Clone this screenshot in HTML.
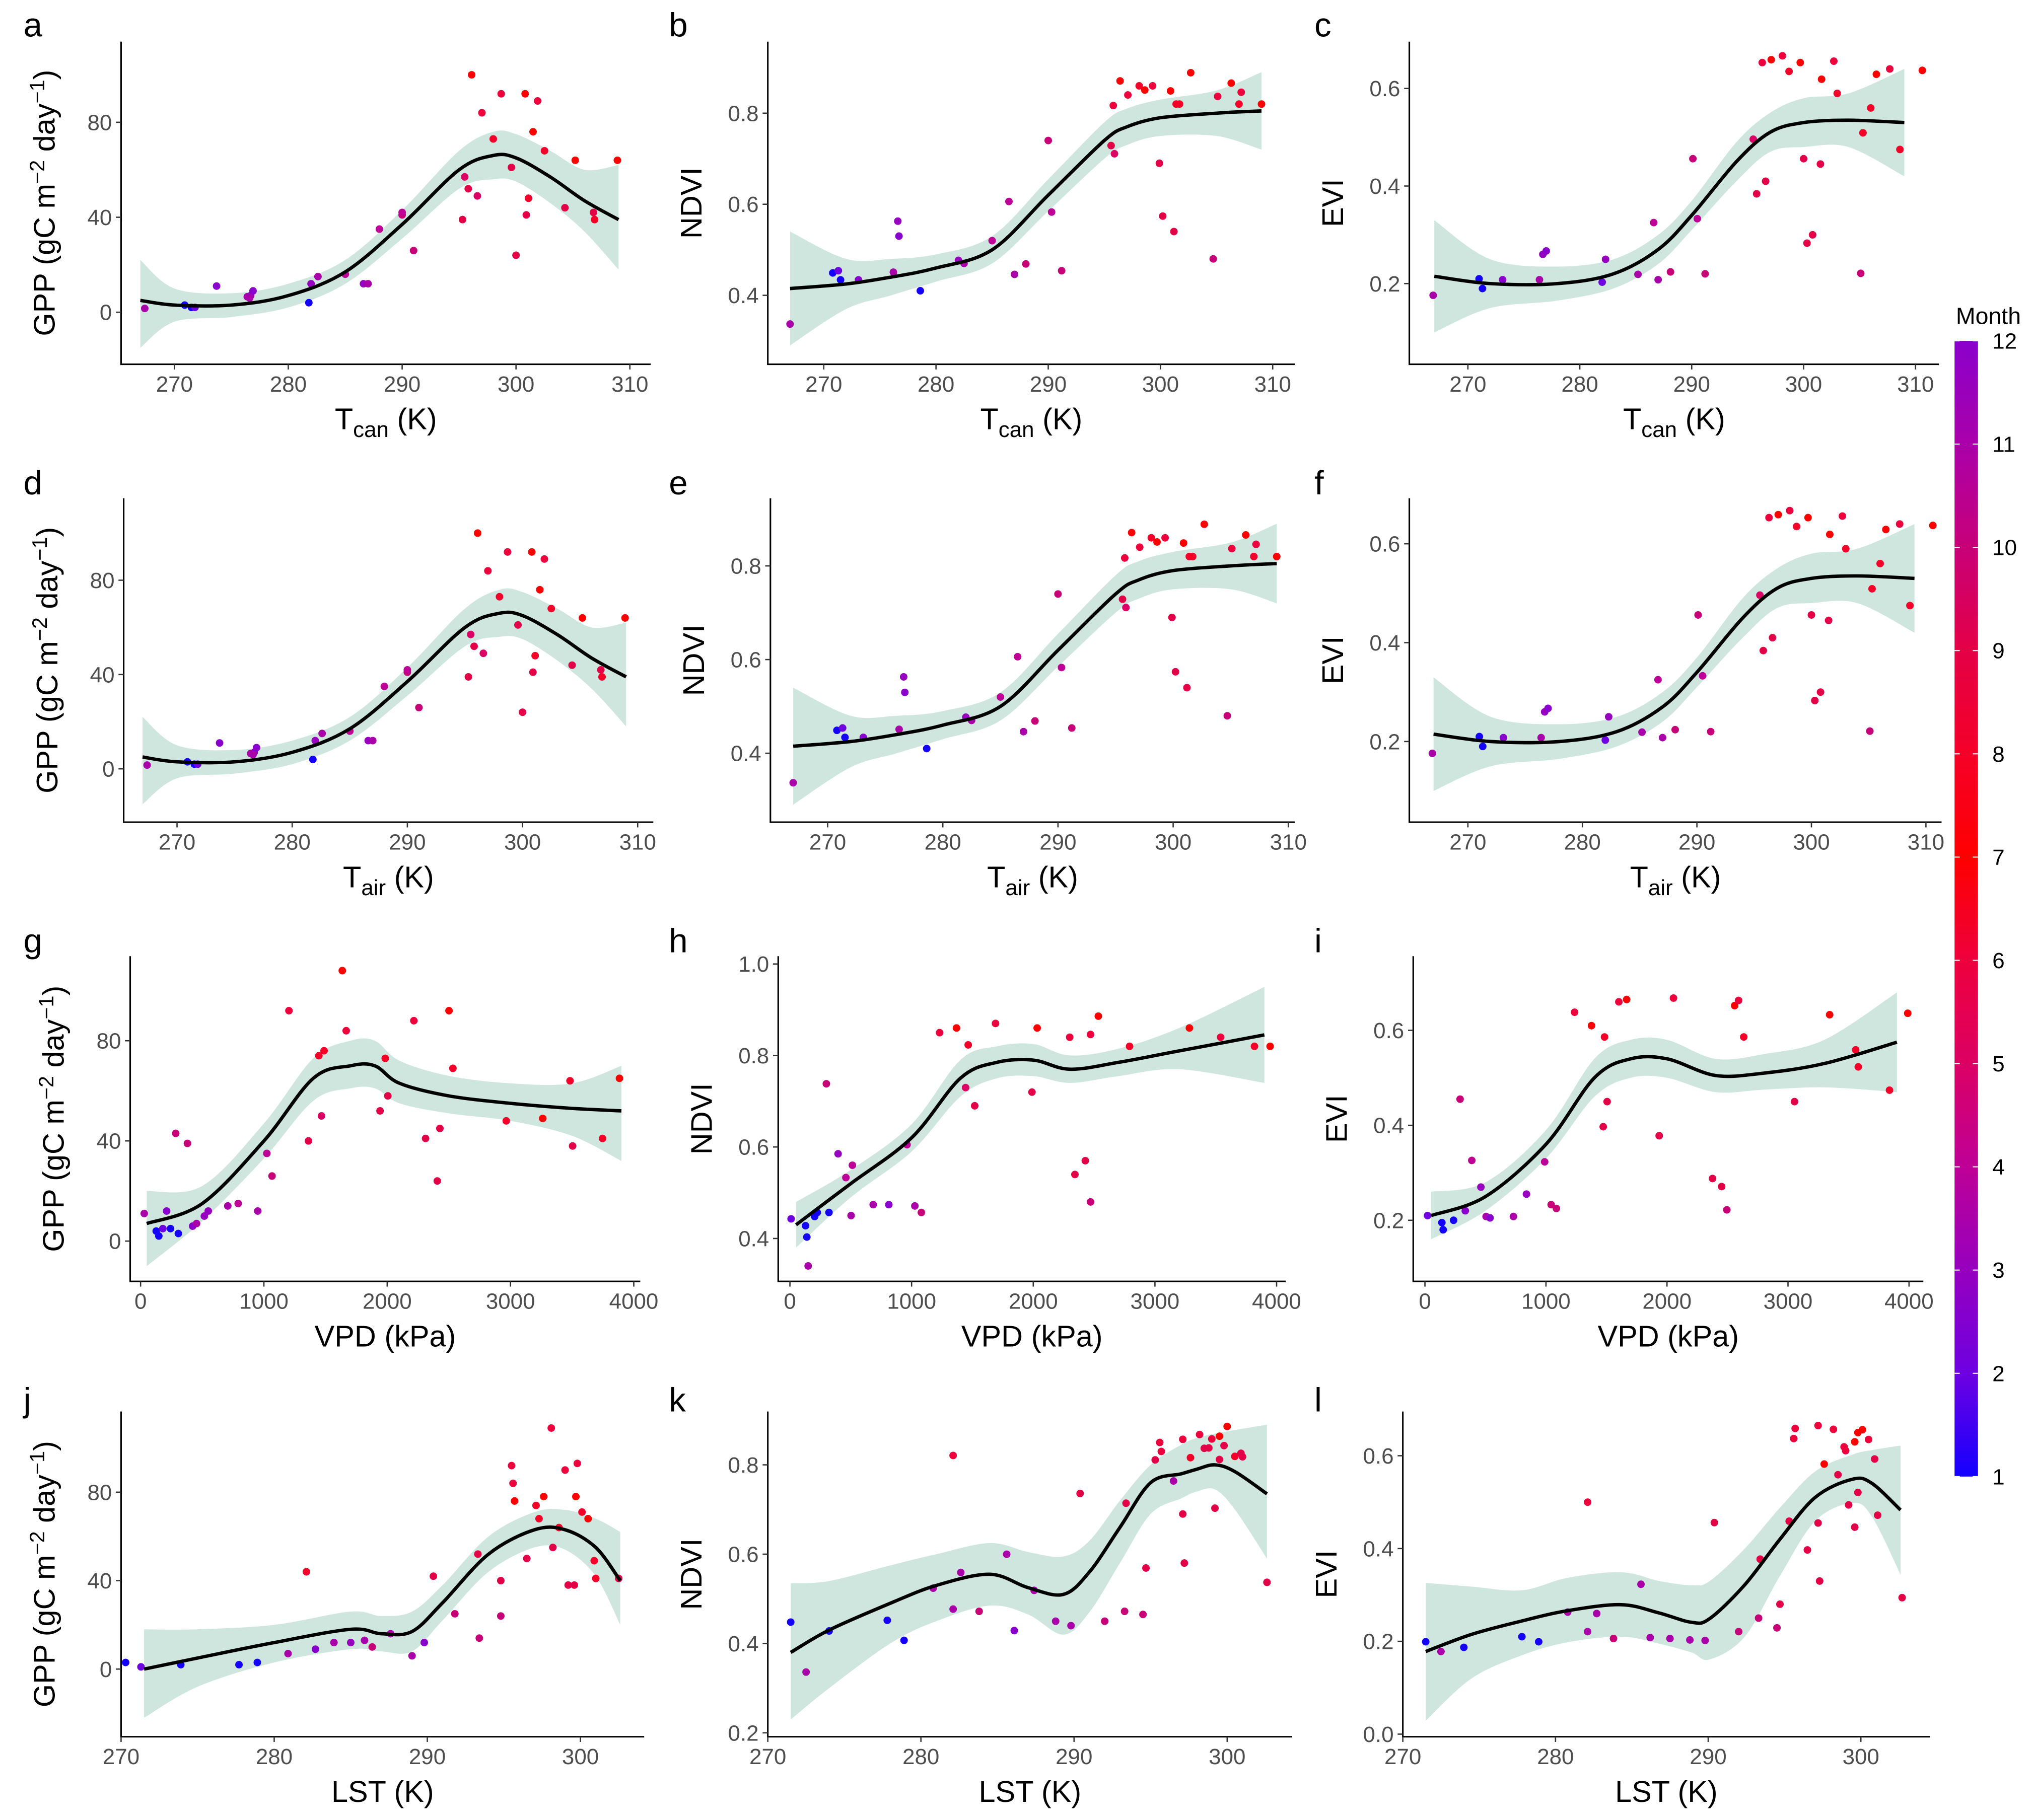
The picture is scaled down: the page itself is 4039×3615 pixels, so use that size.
<!DOCTYPE html>
<html><head><meta charset="utf-8"><title>GPP/NDVI/EVI vs drivers</title>
<style>html,body{margin:0;padding:0;background:#fff}svg{display:block}</style></head>
<body>
<svg id="chart" xmlns="http://www.w3.org/2000/svg" width="4039" height="3615" viewBox="0 0 1563 1399" font-family="Liberation Sans, sans-serif"></svg>
<script>
// ---------- data ----------
const aPts=[[267.4,1.6,11],[270.9,3,1],[271.5,2,1],[271.8,2,2],[273.7,11,12],[276.4,6.5,11],[276.7,7,3],[276.9,9,12],[276.6,6,11],[281.8,4,1],[282,12,3],[282.6,15,11],[285,16,4],[286.6,12,3],[287,12,11],[288,35,4],[290,41,10],[290,42,4],[291,26,10],[295.3,39,9],[295.5,57,5],[295.8,52,9],[296.1,100,7],[296.6,49,5],[297,84,6],[298,73,8],[298.7,92,6],[299.6,61,9],[300,24,9],[300.8,92,7],[300.9,41,9],[301.1,48,8],[301.5,76,7],[301.9,89,6],[302.5,68,8],[304.3,44,9],[305.2,64,7],[306.8,42,9],[306.9,39,8],[308.9,64,7]];
const aFitX=[267,270,275,280,285,290,295,298,300,303,306,309];
const aFitY=[5,3,3,7,17,37,60,66,65,57,47,39];
const aFitLo=[-15,-4,-2,2,12,31,52,56,55,46,34,18];
const aFitHi=[22,10,8,12,22,43,68,76,75,68,60,62];

const bPts=[[267,0.337,11],[270.8,0.449,1],[271.3,0.454,2],[271.5,0.434,1],[273.1,0.434,12],[276.2,0.451,11],[276.6,0.563,3],[276.7,0.53,12],[278.6,0.41,1],[282,0.477,3],[282.5,0.47,11],[285,0.52,4],[286.5,0.606,4],[287,0.446,11],[288,0.469,10],[290,0.74,10],[290.3,0.583,4],[291.2,0.454,10],[295.6,0.729,9],[295.9,0.711,5],[295.8,0.817,6],[296.4,0.871,7],[297.1,0.84,6],[298.1,0.86,8],[298.6,0.851,7],[299.3,0.86,6],[299.9,0.69,9],[300.2,0.574,9],[300.9,0.849,7],[301.2,0.54,9],[301.4,0.82,8],[301.7,0.82,8],[302.7,0.889,7],[304.7,0.48,10],[305.1,0.837,6],[306.3,0.866,7],[307,0.82,8],[307.2,0.846,6],[309,0.82,7]];
const bFitX=[267,272,276,280,285,290,295,297,300,305,309];
const bFitY=[0.415,0.425,0.44,0.46,0.5,0.62,0.74,0.77,0.79,0.8,0.805];
const bFitLo=[0.29,0.37,0.40,0.43,0.47,0.585,0.7,0.73,0.75,0.75,0.72];
const bFitHi=[0.54,0.48,0.48,0.49,0.53,0.655,0.78,0.81,0.83,0.85,0.89];

const cPts=[[266.9,0.176,11],[271,0.21,1],[271.3,0.19,1],[273.1,0.208,12],[276.4,0.208,11],[276.7,0.26,3],[277,0.267,12],[282,0.203,2],[282.3,0.25,3],[285.2,0.219,11],[286.6,0.325,4],[287,0.208,11],[288.1,0.224,10],[290.1,0.456,10],[290.5,0.333,4],[291.2,0.22,10],[295.5,0.496,5],[295.8,0.384,9],[296.3,0.653,6],[296.6,0.41,9],[297.1,0.659,7],[298.1,0.667,6],[298.7,0.635,8],[299.7,0.653,7],[300,0.456,9],[300.3,0.283,9],[300.8,0.30,9],[301.5,0.445,9],[301.6,0.619,7],[302.7,0.656,6],[303,0.59,8],[305.1,0.221,10],[305.3,0.509,8],[306,0.56,8],[306.5,0.629,7],[307.7,0.64,6],[308.6,0.475,8],[310.6,0.637,7]];
const cFitX=[267,272,278,283,287,290,294,297,300,304,309];
const cFitY=[0.215,0.2,0.2,0.22,0.27,0.34,0.45,0.51,0.53,0.535,0.53];
const cFitLo=[0.1,0.15,0.165,0.19,0.24,0.31,0.41,0.47,0.48,0.48,0.42];
const cFitHi=[0.33,0.25,0.235,0.25,0.3,0.37,0.49,0.55,0.58,0.59,0.64];

const gPts=[[30,11,11],[127,4,1],[148,2,1],[180,5,2],[211,12,12],[243,5,1],[306,3,1],[285,43,10],[380,39,10],[422,6,12],[454,7,11],[517,10,3],[549,12,3],[707,14,11],[792,15,4],[950,12,11],[1024,35,4],[1066,26,10],[1203,92,6],[1361,40,9],[1446,74,8],[1467,50,5],[1488,76,8],[1636,108,7],[1668,84,6],[1942,52,9],[1984,73,8],[2005,58,9],[2216,88,6],[2311,41,9],[2427,45,9],[2406,24,9],[2501,92,7],[2533,69,8],[2966,48,8],[3261,49,7],[3483,64,8],[3504,38,9],[3747,41,8],[3884,65,7]];
const gFitX=[50,500,1000,1400,1700,1900,2100,2500,3000,3500,3900];
const gFitY=[7,15,40,65,70,70,63,58,55,53,52];
const gFitLo=[-10,8,33,56,61,61,55,51,48,42,32];
const gFitHi=[20,22,47,73,80,80,72,66,63,63,70];

const hPts=[[10,0.443,2],[128,0.428,1],[139,0.403,1],[150,0.34,11],[203,0.448,1],[225,0.457,1],[321,0.457,1],[300,0.738,10],[396,0.585,3],[460,0.533,4],[513,0.56,4],[503,0.45,11],[684,0.474,11],[813,0.474,12],[963,0.605,4],[1027,0.471,11],[1080,0.457,10],[1230,0.85,6],[1369,0.86,7],[1465,0.823,8],[1519,0.69,9],[1444,0.73,5],[1690,0.87,6],[2032,0.86,7],[1989,0.72,9],[2299,0.84,6],[2342,0.54,9],[2428,0.57,9],[2471,0.48,10],[2535,0.886,7],[2471,0.846,6],[2791,0.82,8],[3283,0.86,7],[3540,0.84,6],[3818,0.82,8],[3947,0.82,7]];
const hFitX=[50,500,1000,1400,1700,2000,2300,2700,3200,3900];
const hFitY=[0.43,0.52,0.62,0.75,0.785,0.79,0.77,0.785,0.81,0.845];
const hFitLo=[0.38,0.49,0.59,0.71,0.75,0.755,0.74,0.755,0.77,0.74];
const hFitHi=[0.48,0.55,0.65,0.79,0.82,0.825,0.8,0.815,0.86,0.95];

const iPts=[[21,0.21,2],[140,0.195,1],[150,0.18,1],[237,0.2,1],[333,0.22,12],[290,0.455,10],[387,0.326,4],[462,0.27,3],[505,0.208,11],[538,0.205,12],[731,0.208,11],[839,0.255,3],[989,0.323,4],[1043,0.233,10],[1086,0.225,10],[1237,0.638,6],[1376,0.61,7],[1484,0.586,8],[1505,0.45,9],[1473,0.397,9],[1602,0.66,6],[1667,0.665,7],[1935,0.378,9],[2054,0.668,6],[2376,0.288,9],[2452,0.271,9],[2495,0.222,10],[2559,0.652,7],[2591,0.663,6],[2634,0.586,8],[3054,0.45,9],[3344,0.633,7],[3559,0.559,8],[3581,0.523,8],[3839,0.474,8],[3989,0.636,7]];
const iFitX=[50,500,1000,1400,1700,2000,2400,2800,3300,3900];
const iFitY=[0.21,0.25,0.36,0.5,0.54,0.54,0.505,0.51,0.53,0.575];
const iFitLo=[0.16,0.22,0.33,0.46,0.5,0.5,0.47,0.475,0.48,0.47];
const iFitHi=[0.26,0.28,0.39,0.54,0.58,0.58,0.54,0.55,0.58,0.68];

const jPts=[[270.3,3,1],[271.3,1,2],[273.9,2,1],[277.7,2,1],[278.9,3,1],[280.9,7,11],[282.1,44,8],[282.7,9,12],[283.9,12,11],[285,12,3],[285.9,13,11],[286.4,10,10],[287.6,16,11],[289,6,11],[289.8,12,12],[290.4,42,9],[291.8,25,10],[293.4,14,10],[293.3,52,9],[294.8,40,9],[294.8,24,10],[295.7,76,7],[295.6,84,6],[295.5,92,6],[296.5,50,9],[297.1,74,8],[297.3,68,8],[297.6,78,7],[298.1,109,6],[298.2,55,9],[298.6,64,8],[299,90,6],[299.2,38,9],[299.6,38,9],[299.7,78,7],[299.8,93,6],[300.1,71,8],[300.5,68,7],[300.9,49,8],[301,41,8],[302.5,41,9]];
const jFitX=[271.5,275,280,285,287,289,291,294,297,299,301,302.6];
const jFitY=[0,5,12,18,16,17,30,52,63,63,55,40];
const jFitLo=[-22,-8,3,9,8,8,22,44,55,54,42,20];
const jFitHi=[18,18,20,26,24,26,38,60,71,72,68,62];

const kPts=[[271.5,0.448,1],[272.5,0.336,11],[274,0.428,1],[277.8,0.452,1],[278.9,0.407,1],[280.8,0.524,11],[282.1,0.821,6],[282.1,0.477,11],[282.6,0.559,11],[283.8,0.472,10],[285.6,0.6,11],[286.1,0.429,12],[287.4,0.519,11],[288.8,0.45,11],[289.8,0.44,11],[290.4,0.736,9],[292,0.45,10],[293.3,0.472,10],[293.4,0.714,9],[294.5,0.465,10],[294.7,0.569,9],[295.3,0.811,9],[295.6,0.85,6],[295.7,0.83,6],[296.5,0.764,11],[297.1,0.857,6],[297.1,0.69,9],[297.2,0.58,9],[297.6,0.816,8],[298.2,0.868,6],[298.5,0.837,9],[298.8,0.838,9],[299,0.858,6],[299.2,0.703,9],[299.5,0.864,7],[299.5,0.812,9],[299.8,0.843,9],[300,0.886,7],[300.5,0.819,8],[300.9,0.826,9],[301,0.818,9],[302.6,0.537,9]];
const kFitX=[271.5,274,278,281,284.5,287,289.3,291,293,295,297,298,299.2,300.5,302.6];
const kFitY=[0.38,0.43,0.49,0.53,0.555,0.525,0.51,0.56,0.66,0.76,0.78,0.79,0.8,0.785,0.735];
const kFitLo=[0.23,0.3,0.4,0.45,0.485,0.465,0.42,0.47,0.58,0.69,0.725,0.74,0.745,0.7,0.59];
const kFitHi=[0.535,0.54,0.575,0.6,0.625,0.605,0.595,0.63,0.72,0.8,0.845,0.86,0.87,0.878,0.89];

const lPts=[[271.5,0.199,1],[272.5,0.178,11],[274,0.187,1],[277.8,0.21,1],[278.9,0.199,1],[280.8,0.263,11],[282.1,0.5,6],[282.1,0.221,11],[282.7,0.26,11],[283.8,0.206,10],[285.6,0.323,11],[286.2,0.208,11],[287.5,0.206,11],[288.8,0.203,11],[289.8,0.202,11],[290.4,0.456,9],[292,0.221,10],[293.3,0.25,10],[293.4,0.377,9],[294.5,0.229,10],[294.7,0.28,9],[295.3,0.459,9],[295.6,0.637,6],[295.7,0.659,6],[296.5,0.397,9],[297.2,0.665,6],[297.2,0.455,9],[297.3,0.33,9],[297.6,0.582,7],[298.2,0.657,6],[298.5,0.559,9],[298.9,0.619,6],[299,0.611,6],[299.2,0.494,9],[299.6,0.446,9],[299.6,0.63,7],[299.8,0.521,9],[299.8,0.65,7],[300.1,0.656,7],[300.5,0.635,6],[300.9,0.593,9],[301.1,0.472,9],[302.7,0.294,9]];
const lFitX=[271.5,274.5,277.8,280.8,284.3,286.8,288.9,290.1,292.4,294.7,297,299.4,300.7,302.6];
const lFitY=[0.178,0.215,0.244,0.266,0.279,0.261,0.241,0.249,0.322,0.42,0.51,0.549,0.541,0.483];
const lFitLo=[0.029,0.12,0.17,0.198,0.21,0.195,0.176,0.161,0.21,0.341,0.459,0.498,0.47,0.344];
const lFitHi=[0.326,0.318,0.31,0.337,0.349,0.33,0.321,0.33,0.4,0.488,0.566,0.602,0.612,0.622];

const tempTicks=[270,280,290,300,310];
const lstTicks=[270,280,290,300];
const vpdTicks=[0,1000,2000,3000,4000];
const gppTicks=[0,40,80];
const monthTicks=[1,2,3,4,5,6,7,8,9,10,11,12];

// ---------- drawing ----------
const svg=document.getElementById('chart');
const NS='http://www.w3.org/2000/svg';
function mk(tag,attrs,parent){const e=document.createElementNS(NS,tag);for(const k in attrs)e.setAttribute(k,attrs[k]);(parent||svg).appendChild(e);return e;}
const stops=[[1,[20,0,255]],[2,[110,0,225]],[3,[150,0,190]],[4,[190,0,150]],[5,[220,0,100]],[6,[238,0,60]],[7,[255,0,0]],[8,[245,0,40]],[9,[228,0,70]],[10,[200,0,120]],[11,[170,0,170]],[12,[138,0,204]]];
function mcol(m){for(let i=0;i<stops.length-1;i++){const a=stops[i],b=stops[i+1];if(m<=b[0]){const t=(m-a[0])/(b[0]-a[0]);const c=a[1].map((v,j)=>Math.round(v+(b[1][j]-v)*t));return `rgb(${c[0]},${c[1]},${c[2]})`;}}return 'rgb(138,0,204)';}
function smooth(P,start){let cd=(start?'M':'L')+P[0][0].toFixed(1)+','+P[0][1].toFixed(1);
  for(let i=0;i<P.length-1;i++){const p0=P[Math.max(0,i-1)],p1=P[i],p2=P[i+1],p3=P[Math.min(P.length-1,i+2)];
    cd+='C'+(p1[0]+(p2[0]-p0[0])/6).toFixed(1)+','+(p1[1]+(p2[1]-p0[1])/6).toFixed(1)+' '+(p2[0]-(p3[0]-p1[0])/6).toFixed(1)+','+(p2[1]-(p3[1]-p1[1])/6).toFixed(1)+' '+p2[0].toFixed(1)+','+p2[1].toFixed(1);}
  return cd;}

const xT=(sub)=>({main:'T',sub:sub,tail:' (K)'});
const panels=[
 {id:'a',box:[93,32,500,280],xr:[270,134,310,484],yr:[0,240,80,94],xt:tempTicks,yt:gppTicks,dec:0,pts:aPts,fx:aFitX,fy:aFitY,lo:aFitLo,hi:aFitHi,xl:xT('can'),yl:'gpp',lx:18,ly:28},
 {id:'b',box:[590,32,995,280],xr:[270,633,310,978],yr:[0.4,227,0.8,87],xt:tempTicks,yt:[0.4,0.6,0.8],dec:1,pts:bPts,fx:bFitX,fy:bFitY,lo:bFitLo,hi:bFitHi,xl:xT('can'),yl:'NDVI',lx:514,ly:28},
 {id:'c',box:[1083,32,1490,280],xr:[270,1128,310,1472],yr:[0.2,218,0.6,68],xt:tempTicks,yt:[0.2,0.4,0.6],dec:1,pts:cPts,fx:cFitX,fy:cFitY,lo:cFitLo,hi:cFitHi,xl:xT('can'),yl:'EVI',lx:1010,ly:28},
 {id:'d',box:[95,383,502,632],xr:[270,136,310,490],yr:[0,591,80,446],xt:tempTicks,yt:gppTicks,dec:0,pts:aPts,fx:aFitX,fy:aFitY,lo:aFitLo,hi:aFitHi,xl:xT('air'),yl:'gpp',lx:18,ly:380},
 {id:'e',box:[592,383,995,632],xr:[270,636,310,990],yr:[0.4,579,0.8,435],xt:tempTicks,yt:[0.4,0.6,0.8],dec:1,pts:bPts,fx:bFitX,fy:bFitY,lo:bFitLo,hi:bFitHi,xl:xT('air'),yl:'NDVI',lx:514,ly:380},
 {id:'f',box:[1083,383,1492,632],xr:[270,1128,310,1480],yr:[0.2,570,0.6,418],xt:tempTicks,yt:[0.2,0.4,0.6],dec:1,pts:cPts,fx:cFitX,fy:cFitY,lo:cFitLo,hi:cFitHi,xl:xT('air'),yl:'EVI',lx:1010,ly:380},
 {id:'g',box:[100,735,492,985],xr:[0,108,4000,487],yr:[0,954,80,800],xt:vpdTicks,yt:gppTicks,dec:0,pts:gPts,fx:gFitX,fy:gFitY,lo:gFitLo,hi:gFitHi,xl:'VPD (kPa)',yl:'gpp',lx:18,ly:732},
 {id:'h',box:[598,735,988,985],xr:[0,607,4000,981],yr:[0.4,952,1.0,741],xt:vpdTicks,yt:[0.4,0.6,0.8,1.0],dec:1,pts:hPts,fx:hFitX,fy:hFitY,lo:hFitLo,hi:hFitHi,xl:'VPD (kPa)',yl:'NDVI',lx:514,ly:732},
 {id:'i',box:[1086,735,1478,985],xr:[0,1095,4000,1467],yr:[0.2,938,0.6,792],xt:vpdTicks,yt:[0.2,0.4,0.6],dec:1,pts:iPts,fx:iFitX,fy:iFitY,lo:iFitLo,hi:iFitHi,xl:'VPD (kPa)',yl:'EVI',lx:1010,ly:732},
 {id:'j',box:[93,1085,495,1335],xr:[270,93,300,446],yr:[0,1283,80,1147],xt:lstTicks,yt:gppTicks,dec:0,pts:jPts,fx:jFitX,fy:jFitY,lo:jFitLo,hi:jFitHi,xl:'LST (K)',yl:'gpp',lx:18,ly:1085},
 {id:'k',box:[590,1085,993,1335],xr:[270,590,300,943],yr:[0.2,1332,0.8,1126],xt:lstTicks,yt:[0.2,0.4,0.6,0.8],dec:1,pts:kPts,fx:kFitX,fy:kFitY,lo:kFitLo,hi:kFitHi,xl:'LST (K)',yl:'NDVI',lx:514,ly:1085},
 {id:'l',box:[1078,1085,1483,1335],xr:[270,1078,300,1430],yr:[0,1333,0.6,1119],xt:lstTicks,yt:[0,0.2,0.4,0.6],dec:1,pts:lPts,fx:lFitX,fy:lFitY,lo:lFitLo,hi:lFitHi,xl:'LST (K)',yl:'EVI',lx:1010,ly:1085}
];

panels.forEach(p=>{
  const g=mk('g',{});
  
  
  const sx=v=>p.xr[1]+(v-p.xr[0])*(p.xr[3]-p.xr[1])/(p.xr[2]-p.xr[0]);
  const sy=v=>p.yr[1]+(v-p.yr[0])*(p.yr[3]-p.yr[1])/(p.yr[2]-p.yr[0]);
  const [L,T,R,B]=p.box;
  const up=p.fx.map((x,i)=>[sx(x),sy(p.hi[i])]);
  const dn=p.fx.map((x,i)=>[sx(x),sy(p.lo[i])]).reverse();
  const rib=mk('path',{d:smooth(up,true)+smooth(dn,false)+'Z',fill:'#cfe6df','stroke':'none'},g);
  
  
  p.pts.forEach(pt=>{
    const c=mk('circle',{cx:sx(pt[0]).toFixed(1),cy:sy(pt[1]).toFixed(1),r:2.9,fill:mcol(pt[2])},g);
    
    
  });
  const P=p.fx.map((x,i)=>[sx(x),sy(p.fy[i])]);
  const ln=mk('path',{d:smooth(P,true),fill:'none',stroke:'#000','stroke-width':2.6},g);
  
  
  const ax=mk('path',{d:`M${L},${T}L${L},${B}L${R},${B}`,fill:'none',stroke:'#000','stroke-width':1.2},g);
  
  
  p.xt.forEach(v=>{const x=sx(v);
    mk('line',{x1:x,y1:B,x2:x,y2:B+4,stroke:'#333','stroke-width':1},g);
    const t=mk('text',{x:x,y:B+21,'text-anchor':'middle','font-size':17,fill:'#4d4d4d'},g);t.textContent=v;
    
    });
  p.yt.forEach(v=>{const y=sy(v);
    mk('line',{x1:L-4,y1:y,x2:L,y2:y,stroke:'#333','stroke-width':1},g);
    const t=mk('text',{x:L-7,y:y+6,'text-anchor':'end','font-size':17,fill:'#4d4d4d'},g);t.textContent=v.toFixed(p.dec);
    
    });
  const cx=(L+R)/2;
  const xt=mk('text',{x:cx,y:B+50,'text-anchor':'middle','font-size':23,fill:'#000'},g);
  
  
  if(typeof p.xl==='string'){xt.textContent=p.xl;}
  else{const a=mk('tspan',{},xt);a.textContent=p.xl.main;const s=mk('tspan',{'font-size':17,dy:6},xt);s.textContent=p.xl.sub;const e=mk('tspan',{dy:-6},xt);e.textContent=p.xl.tail;}
  const cy=(T+B)/2, yx=L-51;
  const yt=mk('text',{x:yx,y:cy,'text-anchor':'middle','font-size':23,fill:'#000',transform:`rotate(-90 ${yx} ${cy})`},g);
  
  
  if(p.yl==='gpp'){
    const t1=mk('tspan',{},yt);t1.textContent='GPP (gC m';
    const t2=mk('tspan',{'font-size':16,dy:-8},yt);t2.textContent='\u22122';
    const t3=mk('tspan',{dy:8},yt);t3.textContent=' day';
    const t4=mk('tspan',{'font-size':16,dy:-8},yt);t4.textContent='\u22121';
    const t5=mk('tspan',{dy:8},yt);t5.textContent=')';
  } else yt.textContent=p.yl;
  const lt=mk('text',{x:p.lx,y:p.ly,'font-size':26,fill:'#000'},g);lt.textContent=p.id;
  
  
});

const cb=mk('g',{});


const defs=mk('defs',{},cb);
const lg=mk('linearGradient',{id:'mg',x1:0,y1:1,x2:0,y2:0},defs);
monthTicks.forEach(m=>mk('stop',{offset:((m-1)/11).toFixed(3),'stop-color':mcol(m)},lg));
const cbTop=262,cbBot=1135;
mk('rect',{x:1502,y:cbTop,width:18,height:cbBot-cbTop,fill:'url(#mg)'},cb);
monthTicks.forEach(m=>{const y=cbBot-(m-1)*(cbBot-cbTop)/11;
  mk('line',{x1:1502,y1:y,x2:1506,y2:y,stroke:'#fff','stroke-width':0.8},cb);
  mk('line',{x1:1516,y1:y,x2:1520,y2:y,stroke:'#fff','stroke-width':0.8},cb);
  const t=mk('text',{x:1531,y:y+6,'font-size':17,fill:'#000'},cb);t.textContent=m;
  
  });
const mt=mk('text',{x:1503,y:249,'font-size':18,fill:'#000'},cb);mt.textContent='Month';


</script>
</body></html>
